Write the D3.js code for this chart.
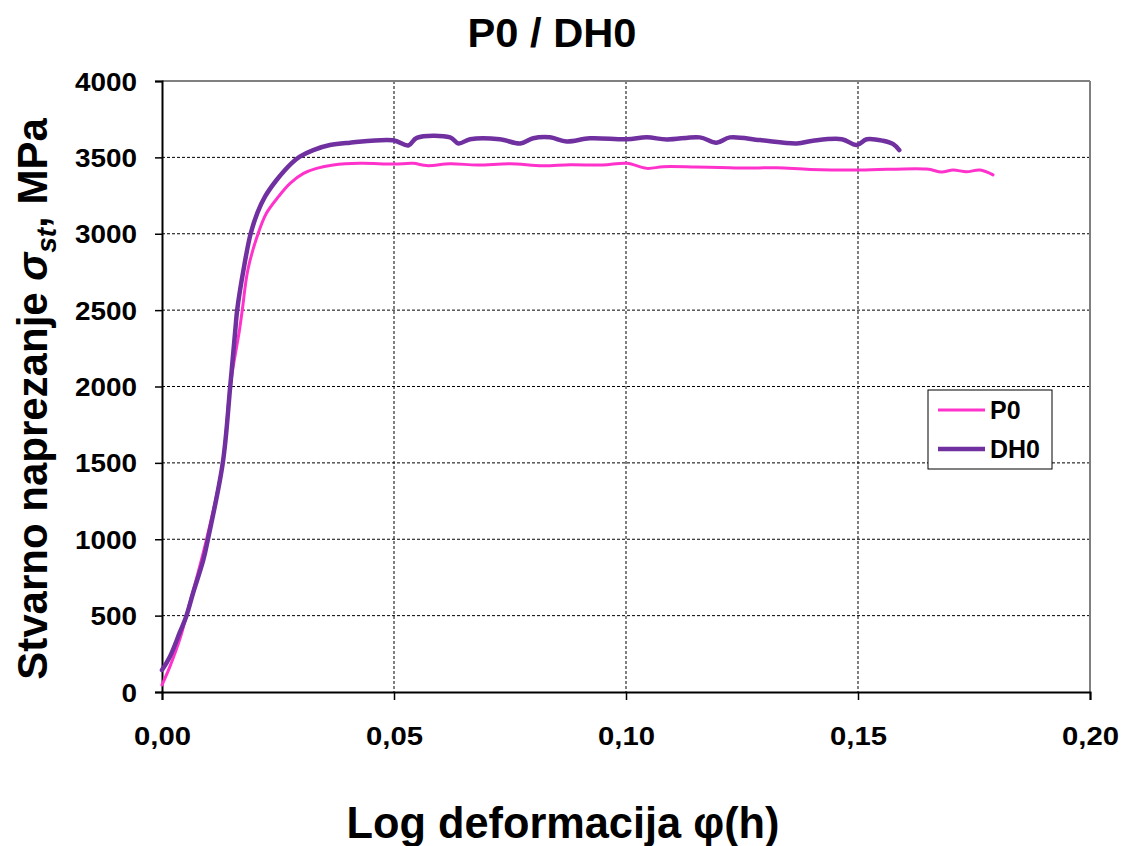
<!DOCTYPE html>
<html><head><meta charset="utf-8">
<script src="https://cdn.jsdelivr.net/npm/d3@7"></script>
<style>body{margin:0;background:#fff;} text{font-family:"Liberation Sans",Arial,sans-serif;}</style>
</head><body>
<svg id="c" width="1126" height="846"></svg>
<script>
const seriesNames = ["P0", "DH0"];
const seriesColors = ["#FF33CC", "#7030A0"];
const p0Strain = [0,0.0017,0.0039,0.0052,0.0096,0.0131,0.0147,0.0167,0.0173,0.0185,0.0207,0.0225,0.0251,0.0276,0.0305,0.0333,0.0369,0.0427,0.05,0.0541,0.0571,0.0621,0.068,0.075,0.082,0.088,0.095,0.1002,0.1045,0.108,0.115,0.1224,0.126,0.1325,0.1397,0.1505,0.1648,0.168,0.1705,0.1734,0.1763,0.1791];
const p0Stress = [46,166,351,493,1000,1500,2000,2370,2500,2763,3000,3134,3243,3330,3395,3428,3450,3461,3456,3461,3446,3458,3450,3458,3445,3452,3450,3461,3428,3439,3437,3432,3430,3432,3421,3417,3424,3404,3417,3406,3417,3385];
const dh0Strain = [0,0.0017,0.0039,0.0052,0.0067,0.0089,0.0099,0.0131,0.0147,0.0158,0.0162,0.0176,0.0191,0.0206,0.0222,0.0247,0.0279,0.0297,0.0326,0.0362,0.0405,0.0498,0.0531,0.0549,0.0621,0.0639,0.0664,0.0728,0.0772,0.08,0.0836,0.0872,0.0922,0.1002,0.1045,0.1088,0.1159,0.1195,0.1224,0.1289,0.1368,0.1403,0.1465,0.1497,0.1519,0.1554,0.1576,0.1589];
const dh0Stress = [144,231,395,493,648,864,1000,1500,2000,2370,2500,2770,3000,3140,3243,3352,3461,3505,3548,3581,3596,3612,3578,3628,3631,3591,3619,3619,3591,3625,3631,3604,3625,3619,3631,3617,3631,3596,3631,3613,3591,3609,3619,3581,3619,3609,3587,3548];
const xTicks = [0, 0.05, 0.10, 0.15, 0.20];
const xTickLabels = ["0,00", "0,05", "0,10", "0,15", "0,20"];
const yTicks = [0,500,1000,1500,2000,2500,3000,3500,4000];

const svg = d3.select("#c");
const L = 162, R = 1090, T = 81, B = 692;
const x = d3.scaleLinear().domain([0, 0.20]).range([L, R]);
const y = d3.scaleLinear().domain([0, 4000]).range([B, T]);

// gridlines
svg.append("g").selectAll("line").data(yTicks.filter(v => v > 0 && v < 4000)).join("line")
  .attr("x1", L).attr("x2", R).attr("y1", d => y(d)).attr("y2", d => y(d))
  .attr("stroke", "#000").attr("stroke-width", 1).attr("stroke-dasharray", "3,2");
svg.append("g").selectAll("line").data(xTicks.filter(v => v > 0 && v < 0.2)).join("line")
  .attr("y1", T).attr("y2", B).attr("x1", d => x(d)).attr("x2", d => x(d))
  .attr("stroke", "#000").attr("stroke-width", 1).attr("stroke-dasharray", "3,2");

// frame top/right grey
svg.append("line").attr("x1", L).attr("x2", R).attr("y1", T).attr("y2", T).attr("stroke", "#808080").attr("stroke-width", 2);
svg.append("line").attr("x1", R).attr("x2", R).attr("y1", T).attr("y2", B).attr("stroke", "#808080").attr("stroke-width", 2);

// axes
const yAxis = svg.append("g").attr("transform", `translate(${L},0)`)
  .call(d3.axisLeft(y).tickValues(yTicks).tickSize(7).tickFormat(d3.format("d")));
yAxis.select(".domain").attr("stroke", "#000").attr("stroke-width", 2);
yAxis.selectAll(".tick line").attr("stroke", "#000").attr("stroke-width", 1.5);
yAxis.selectAll(".tick text").attr("x", -25).attr("dy", "0.36em")
  .style("font-size", "25px").style("font-weight", "bold").attr("fill", "#000")
  .attr("textLength", d => String(d).length * 15.5).attr("lengthAdjust", "spacingAndGlyphs");

const xAxis = svg.append("g").attr("transform", `translate(0,${B})`)
  .call(d3.axisBottom(x).tickValues(xTicks).tickSize(8).tickFormat((d, i) => xTickLabels[i]));
xAxis.select(".domain").attr("stroke", "#000").attr("stroke-width", 2);
xAxis.selectAll(".tick line").attr("stroke", "#000").attr("stroke-width", 1.5);
xAxis.selectAll(".tick text").attr("y", 53).attr("dy", 0)
  .style("font-size", "25px").style("font-weight", "bold").attr("fill", "#000")
  .attr("textLength", 57).attr("lengthAdjust", "spacingAndGlyphs");

// lines
const series = [
  {name: seriesNames[0], color: seriesColors[0], w: 3, data: p0Strain.map((s, i) => [s, p0Stress[i]])},
  {name: seriesNames[1], color: seriesColors[1], w: 4.5, data: dh0Strain.map((s, i) => [s, dh0Stress[i]])}
];
const line = d3.line().x(d => x(d[0])).y(d => y(d[1])).curve(d3.curveCatmullRom.alpha(0.5));
svg.append("g").selectAll("path").data(series).join("path")
  .attr("d", d => line(d.data)).attr("fill", "none")
  .attr("stroke", d => d.color).attr("stroke-width", d => d.w)
  .attr("stroke-linejoin", "round").attr("stroke-linecap", "round");

// title
svg.append("text").attr("x", 552).attr("y", 47).attr("text-anchor", "middle")
  .style("font-size", "40px").style("font-weight", "bold")
  .attr("textLength", 169).attr("lengthAdjust", "spacingAndGlyphs").text("P0 / DH0");

// y label
const yl = svg.append("text").attr("transform", "translate(47,399) rotate(-90)").attr("text-anchor", "middle")
  .style("font-size", "42px").style("font-weight", "bold");
yl.append("tspan").text("Stvarno naprezanje ");
yl.append("tspan").style("font-style", "italic").text("σ");
yl.append("tspan").style("font-style", "italic").style("font-size", "28px").attr("dy", 9).text("st");
yl.append("tspan").attr("dy", -9).text(", MPa");

// x label
svg.append("text").attr("x", 563).attr("y", 838).attr("text-anchor", "middle")
  .style("font-size", "44px").style("font-weight", "bold")
  .attr("textLength", 433).attr("lengthAdjust", "spacingAndGlyphs").text("Log deformacija φ(h)");

// legend
const lg = svg.append("g");
lg.append("rect").attr("x", 928).attr("y", 390).attr("width", 124).attr("height", 79)
  .attr("fill", "#fff").attr("stroke", "#000").attr("stroke-width", 1);
const li = lg.selectAll("g").data(series).join("g").attr("transform", (d, i) => `translate(0,${410 + i * 39})`);
li.append("line").attr("x1", 938).attr("x2", 985).attr("y1", 0).attr("y2", 0)
  .attr("stroke", d => d.color).attr("stroke-width", d => d.w);
li.append("text").attr("x", 990).attr("y", 0).attr("dy", "0.36em")
  .style("font-size", "25px").style("font-weight", "bold").text(d => d.name);
</script>
</body></html>
